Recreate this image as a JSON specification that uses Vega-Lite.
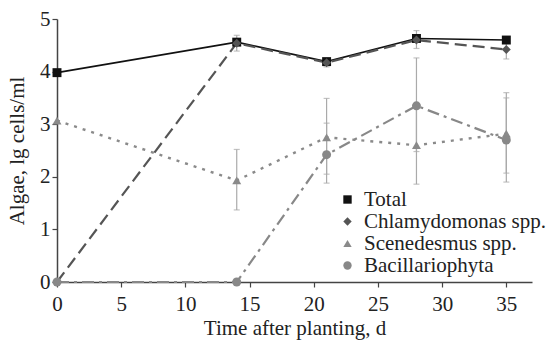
{
  "$schema": "https://vega.github.io/schema/vega-lite/v6.json",
  "width": 475,
  "height": 263,
  "autosize": {"type": "none"},
  "padding": {"left": 57, "top": 19, "right": 14, "bottom": 60},
  "background": "white",
  "config": {
    "view": {"stroke": null},
    "font": "Liberation Serif",
    "axis": {
      "domainColor": "#444",
      "domainWidth": 1.5,
      "tickColor": "#444",
      "tickWidth": 1.2,
      "tickSize": 5,
      "labelFont": "Liberation Serif",
      "labelFontSize": 21,
      "labelColor": "#222",
      "titleFont": "Liberation Serif",
      "titleFontSize": 21,
      "titleFontWeight": "normal",
      "titleColor": "#222",
      "grid": false
    },
    "legend": {
      "labelFont": "Liberation Serif",
      "labelFontSize": 21,
      "labelColor": "#222",
      "labelLimit": 0
    }
  },
  "datasets": {
    "algae": [
      {"series": "Total", "day": 0, "value": 3.98},
      {"series": "Total", "day": 14, "value": 4.56},
      {"series": "Total", "day": 21, "value": 4.19},
      {"series": "Total", "day": 28, "value": 4.63},
      {"series": "Total", "day": 35, "value": 4.6},
      {"series": "Chlamydomonas spp.", "day": 0, "value": 0},
      {"series": "Chlamydomonas spp.", "day": 14, "value": 4.54, "lo": 4.39, "hi": 4.69},
      {"series": "Chlamydomonas spp.", "day": 21, "value": 4.17, "lo": 4.09, "hi": 4.25},
      {"series": "Chlamydomonas spp.", "day": 28, "value": 4.6, "lo": 4.44, "hi": 4.78},
      {"series": "Chlamydomonas spp.", "day": 35, "value": 4.42, "lo": 4.24, "hi": 4.6},
      {"series": "Scenedesmus spp.", "day": 0, "value": 3.07},
      {"series": "Scenedesmus spp.", "day": 14, "value": 1.93, "lo": 1.37, "hi": 2.52},
      {"series": "Scenedesmus spp.", "day": 21, "value": 2.75, "lo": 2.05, "hi": 3.49},
      {"series": "Scenedesmus spp.", "day": 28, "value": 2.6, "lo": 1.86, "hi": 3.35},
      {"series": "Scenedesmus spp.", "day": 35, "value": 2.82, "lo": 2.07, "hi": 3.6},
      {"series": "Bacillariophyta", "day": 0, "value": 0},
      {"series": "Bacillariophyta", "day": 14, "value": 0},
      {"series": "Bacillariophyta", "day": 21, "value": 2.42, "lo": 1.88, "hi": 3.02},
      {"series": "Bacillariophyta", "day": 28, "value": 3.35, "lo": 2.48, "hi": 4.26},
      {"series": "Bacillariophyta", "day": 35, "value": 2.7, "lo": 1.9, "hi": 3.5}
    ]
  },
  "data": {"name": "algae"},
  "encoding": {
    "x": {
      "field": "day",
      "type": "quantitative",
      "scale": {"domain": [0, 37], "nice": false, "zero": false},
      "axis": {"values": [0, 5, 10, 15, 20, 25, 30, 35], "title": "Time after planting, d", "labelPadding": 6, "titlePadding": 3, "labelFlush": false}
    },
    "y": {
      "field": "value",
      "type": "quantitative",
      "scale": {"domain": [0, 5], "nice": false},
      "axis": {"values": [0, 1, 2, 3, 4, 5], "title": "Algae, lg cells/ml", "labelPadding": 2, "titlePadding": 12, "labelFlush": false}
    }
  },
  "layer": [
    {
      "transform": [{"filter": "isValid(datum.lo)"}],
      "mark": {"type": "rule", "color": "#aaaaaa", "strokeWidth": 1.2},
      "encoding": {
        "y": {"field": "lo", "type": "quantitative"},
        "y2": {"field": "hi"}
      }
    },
    {
      "transform": [{"filter": "isValid(datum.lo)"}],
      "mark": {"type": "tick", "orient": "horizontal", "color": "#aaaaaa", "size": 6, "thickness": 1.2},
      "encoding": {"y": {"field": "lo", "type": "quantitative"}}
    },
    {
      "transform": [{"filter": "isValid(datum.hi)"}],
      "mark": {"type": "tick", "orient": "horizontal", "color": "#aaaaaa", "size": 6, "thickness": 1.2},
      "encoding": {"y": {"field": "hi", "type": "quantitative"}}
    },
    {
      "transform": [{"filter": "datum.series === 'Bacillariophyta'"}],
      "mark": {"type": "line", "color": "#888888", "strokeWidth": 2.2, "strokeDash": [12, 5, 3, 5]},
      "encoding": {"order": {"field": "day"}}
    },
    {
      "transform": [{"filter": "datum.series === 'Scenedesmus spp.'"}],
      "mark": {"type": "line", "color": "#8a8a8a", "strokeWidth": 2.4, "strokeDash": [3, 6]},
      "encoding": {"order": {"field": "day"}}
    },
    {
      "transform": [{"filter": "datum.series === 'Total'"}],
      "mark": {"type": "line", "color": "#111111", "strokeWidth": 1.6},
      "encoding": {"order": {"field": "day"}}
    },
    {
      "transform": [{"filter": "datum.series === 'Chlamydomonas spp.'"}],
      "mark": {"type": "line", "color": "#555555", "strokeWidth": 2.2, "strokeDash": [12, 6]},
      "encoding": {"order": {"field": "day"}}
    },
    {
      "mark": {"type": "point", "filled": true, "opacity": 1, "size": 80},
      "encoding": {
        "color": {
          "field": "series",
          "type": "nominal",
          "scale": {
            "domain": ["Total", "Chlamydomonas spp.", "Scenedesmus spp.", "Bacillariophyta"],
            "range": ["#111111", "#555555", "#8a8a8a", "#888888"]
          },
          "legend": {
            "title": null,
            "orient": "none",
            "legendX": 280,
            "legendY": 170,
            "symbolSize": 70,
            "labelOffset": 6,
            "rowPadding": 0,
            "padding": 0,
            "symbolOpacity": 1,
            "symbolStrokeWidth": 0
          }
        },
        "shape": {
          "field": "series",
          "type": "nominal",
          "scale": {
            "domain": ["Total", "Chlamydomonas spp.", "Scenedesmus spp.", "Bacillariophyta"],
            "range": ["square", "diamond", "triangle-up", "circle"]
          },
          "legend": {
            "title": null,
            "orient": "none",
            "legendX": 280,
            "legendY": 170,
            "symbolSize": 70,
            "labelOffset": 6,
            "rowPadding": 0,
            "padding": 0,
            "symbolOpacity": 1,
            "symbolStrokeWidth": 0
          }
        }
      }
    }
  ]
}
